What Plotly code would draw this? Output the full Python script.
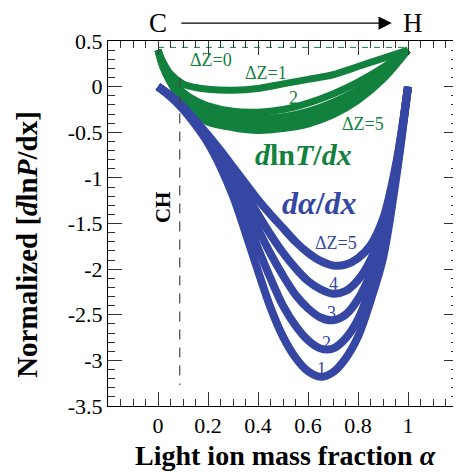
import plotly.graph_objects as go

# ---------------- data ----------------
x_blue = [0, 0.05, 0.1, 0.15, 0.2, 0.25, 0.3, 0.35, 0.4, 0.45, 0.5, 0.55,
          0.6, 0.65, 0.7, 0.75, 0.8, 0.85, 0.9, 0.95, 0.975, 1.0]
dadx_dz1 = [0, -0.11, -0.25, -0.42, -0.62, -0.88, -1.2, -1.6, -2.02, -2.42, -2.74, -2.97,
            -3.12, -3.18, -3.13, -2.98, -2.74, -2.35, -1.88, -1.05, -0.55, 0]
dadx_dz2 = [0, -0.11, -0.24, -0.41, -0.6, -0.83, -1.1, -1.42, -1.77, -2.1, -2.4, -2.62,
            -2.78, -2.87, -2.87, -2.76, -2.55, -2.2, -1.75, -1.0, -0.53, 0]
dadx_dz3 = [0, -0.1, -0.23, -0.39, -0.57, -0.78, -1.02, -1.28, -1.56, -1.83, -2.07, -2.28,
            -2.43, -2.53, -2.56, -2.5, -2.33, -2.05, -1.63, -0.95, -0.51, 0]
dadx_dz4 = [0, -0.1, -0.22, -0.38, -0.55, -0.74, -0.95, -1.17, -1.4, -1.62, -1.82, -1.99,
            -2.13, -2.22, -2.27, -2.24, -2.12, -1.9, -1.54, -0.91, -0.49, 0]
dadx_dz5 = [0, -0.1, -0.22, -0.37, -0.53, -0.7, -0.88, -1.06, -1.24, -1.40, -1.55, -1.70,
            -1.82, -1.91, -1.96, -1.95, -1.88, -1.74, -1.45, -0.88, -0.48, 0]

x_green = [0, 0.02, 0.05, 0.1, 0.15, 0.2, 0.3, 0.4, 0.5, 0.6, 0.7, 0.8, 0.9, 1.0]
dlnTdx_dz0 = [0.4, 0.27, 0.14, 0.03, -0.01, -0.03, -0.04, -0.02, 0.03, 0.08, 0.13, 0.22, 0.31, 0.4]
dlnTdx_dz1 = [0.4, 0.25, 0.1, -0.06, -0.15, -0.21, -0.27, -0.28, -0.25, -0.18, -0.08, 0.05, 0.21, 0.4]
dlnTdx_dz2 = [0.4, 0.24, 0.08, -0.1, -0.2, -0.27, -0.33, -0.35, -0.33, -0.27, -0.17, -0.03, 0.17, 0.4]
dlnTdx_dz3 = [0.4, 0.23, 0.06, -0.13, -0.24, -0.32, -0.38, -0.41, -0.39, -0.33, -0.23, -0.08, 0.14, 0.4]
dlnTdx_dz4 = [0.4, 0.22, 0.05, -0.15, -0.27, -0.36, -0.42, -0.45, -0.43, -0.37, -0.27, -0.11, 0.11, 0.4]
dlnTdx_dz5 = [0.4, 0.21, 0.04, -0.17, -0.3, -0.39, -0.45, -0.48, -0.46, -0.41, -0.31, -0.15, 0.08, 0.4]

x_ticks = [0, 0.2, 0.4, 0.6, 0.8, 1]
x_ticklabels = ["0", "0.2", "0.4", "0.6", "0.8", "1"]
y_ticks = [0.5, 0, -0.5, -1, -1.5, -2, -2.5, -3, -3.5]
y_ticklabels = ["0.5", "0", "-0.5", "-1", "-1.5", "-2", "-2.5", "-3", "-3.5"]

ch_x = 0.087
ch_span = [0.1, -3.27]

BLUE = "#3547a3"
GREEN = "#12813e"
FONT = "Liberation Serif"

fig = go.Figure()

for ys in [dlnTdx_dz5, dlnTdx_dz4, dlnTdx_dz3, dlnTdx_dz2, dlnTdx_dz1, dlnTdx_dz0]:
    fig.add_trace(go.Scatter(x=x_green, y=ys, mode="lines",
                             line=dict(color=GREEN, width=7, shape="spline", smoothing=1.0),
                             hoverinfo="skip", showlegend=False))
for ys in [dadx_dz1, dadx_dz2, dadx_dz3, dadx_dz4, dadx_dz5]:
    fig.add_trace(go.Scatter(x=x_blue, y=ys, mode="lines",
                             line=dict(color=BLUE, width=8, shape="spline", smoothing=1.0),
                             hoverinfo="skip", showlegend=False))

# dashed CH line
fig.add_trace(go.Scatter(x=[ch_x, ch_x], y=ch_span, mode="lines",
                         line=dict(color="#444444", width=1.2, dash="10px,8px"),
                         hoverinfo="skip", showlegend=False))
# dashed top green line
fig.add_trace(go.Scatter(x=[0, 1], y=[0.43, 0.43], mode="lines",
                         line=dict(color=GREEN, width=1, dash="6px,6px"),
                         hoverinfo="skip", showlegend=False))

ann = []
def txt(x, y, s, color, size, **kw):
    d = dict(x=x, y=y, text=s, showarrow=False, xref="x", yref="y",
             font=dict(family=FONT, size=size, color=color))
    d.update(kw)
    ann.append(d)

txt(0.21, 0.29, "ΔZ=0", GREEN, 18)
txt(0.43, 0.15, "ΔZ=1", GREEN, 18)
txt(0.54, -0.12, "2", GREEN, 18)
txt(0.82, -0.41, "ΔZ=5", GREEN, 18)
txt(0.58, -0.74, "<b><i>d</i>ln<i>T</i>/<i>dx</i></b>", GREEN, 30)
txt(0.645, -1.27, "<b><i>dα</i>/<i>dx</i></b>", BLUE, 32)
txt(0.71, -1.71, "ΔZ=5", BLUE, 18)
txt(0.70, -2.16, "4", BLUE, 18)
txt(0.695, -2.48, "3", BLUE, 18)
txt(0.675, -2.81, "2", BLUE, 18)
txt(0.655, -3.09, "1", BLUE, 18)
txt(0.02, -1.32, "<b>CH</b>", "black", 21, textangle=-90)

# C -> H arrow
ann.append(dict(x=0.935, y=1.049, xref="x", yref="paper", ax=-212, ay=0,
                axref="pixel", ayref="pixel", showarrow=True, arrowhead=2,
                arrowsize=2.2, arrowwidth=1.2, arrowcolor="black", text=""))
ann.append(dict(x=0.0, y=1.049, xref="x", yref="paper", text="C", showarrow=False,
                yanchor="middle", xanchor="center",
                font=dict(family=FONT, size=27, color="black")))
ann.append(dict(x=1.02, y=1.049, xref="x", yref="paper", text="H", showarrow=False,
                yanchor="middle", xanchor="center",
                font=dict(family=FONT, size=27, color="black")))
# axis titles
ann.append(dict(x=0.51, y=-0.135, xref="x", yref="paper", showarrow=False,
                yanchor="middle", xanchor="center",
                text="<b>Light ion mass fraction <i>α</i></b>",
                font=dict(family=FONT, size=28, color="black")))
ann.append(dict(x=-0.231, y=0.442, xref="paper", yref="paper", showarrow=False,
                yanchor="middle", xanchor="center", textangle=-90,
                text="<b>Normalized [<i>d</i>ln<i>P</i>/dx]</b>",
                font=dict(family=FONT, size=29, color="black")))

fig.update_layout(
    width=453, height=464,
    margin=dict(l=100, r=3, t=33, b=66, autoexpand=False),
    paper_bgcolor="white", plot_bgcolor="white",
    font=dict(family=FONT, size=22, color="black"),
    annotations=ann,
    xaxis=dict(range=[-0.2, 1.2], tickvals=x_ticks, ticktext=x_ticklabels,
               tickfont=dict(family=FONT, size=22, color="black"),
               ticks="inside", ticklen=14, tickwidth=1, tickcolor="#333",
               minor=dict(ticks="inside", ticklen=7, dtick=0.05, tick0=0, tickcolor="#333"),
               showline=True, linecolor="black", linewidth=1, mirror="ticks",
               showgrid=False, zeroline=False, automargin=False),
    yaxis=dict(range=[-3.5, 0.5], tickvals=y_ticks, ticktext=y_ticklabels,
               tickfont=dict(family=FONT, size=22, color="black"),
               ticks="inside", ticklen=14, tickwidth=1, tickcolor="#333",
               minor=dict(ticks="inside", ticklen=7, dtick=0.1, tick0=0, tickcolor="#333"),
               showline=True, linecolor="black", linewidth=1, mirror="ticks",
               showgrid=False, zeroline=False, automargin=False),
)

fig.write_html("out.html")
